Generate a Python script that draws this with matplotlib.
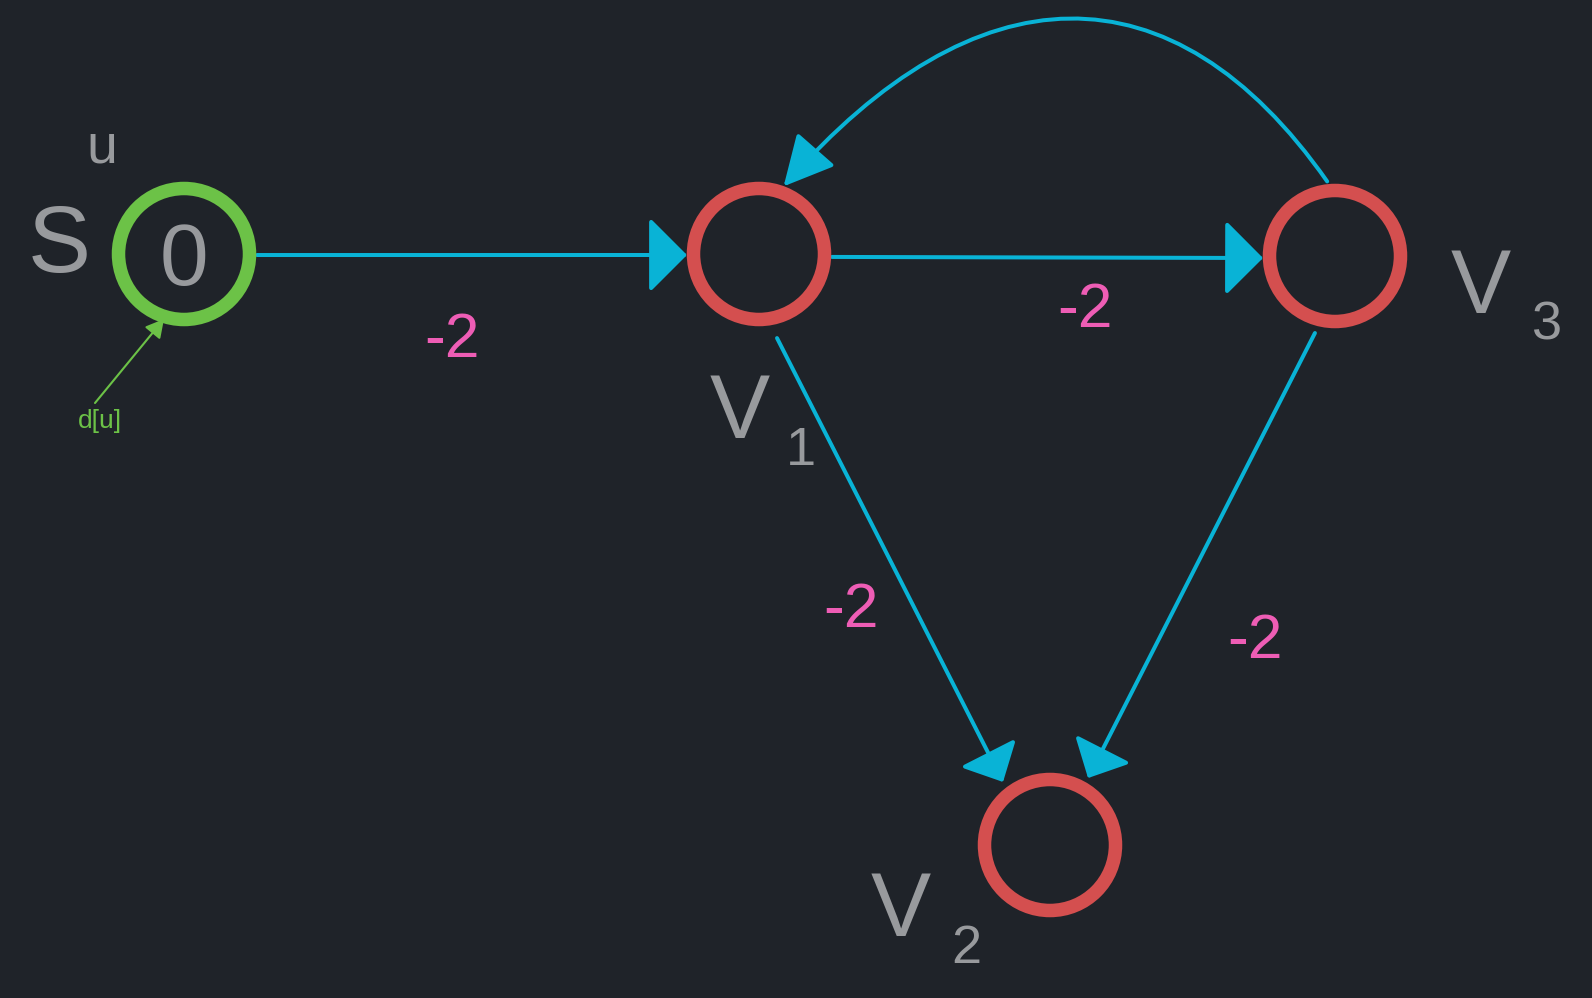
import matplotlib
matplotlib.use('Agg')
import numpy as np
import matplotlib.pyplot as plt
from matplotlib.patches import Circle, FancyArrowPatch
from matplotlib.path import Path

# Knoten, Kanten und Gewichte
nodes = ['S', 'V1', 'V2', 'V3']
node_names = ['S', 'V', 'V', 'V']
node_subs = ['', '1', '2', '3']
edges = [('S', 'V1'), ('V1', 'V3'), ('V1', 'V2'), ('V3', 'V2')]
weights = [-2, -2, -2, -2]
back_edge = ('V3', 'V1')
start_value = '0'

# Layout in Pixeln (Bild 1592 x 998)
pos = {'S': (184, 254), 'V1': (759, 254), 'V2': (1050, 845), 'V3': (1335, 256)}
# Ansatzpunkte am Kreis: (Winkel in Grad, Abstand vom Mittelpunkt) fuer Start und Ende
anchors = [((0.8, 73), (179.2, 72)),
           ((2.3, 73), (178.4, 72)),
           ((77.9, 86), (-126.7, 78.6)),
           ((104.6, 79.6), (-60.4, 77))]
head_px = [(35, 35), (35, 35), (30, 29), (30, 29)]  # Laenge, halbe Breite
weight_pos = [(452, 357), (1085, 327), (851, 627), (1255, 658)]
name_pos = {'S': (59, 272), 'V1': (740, 438), 'V2': (901, 936), 'V3': (1481, 313)}
sub_pos = {'V1': (801, 465), 'V2': (966, 963), 'V3': (1547, 340)}

BG = '#1f2329'
CYAN = '#09b3d6'
RED = '#d44f4f'
GREEN = '#6cc247'
GRAY = '#989a9d'
PINK = '#ee5db5'
PT = 0.72  # Pixel -> Punkt bei dpi 100
LW = 4 * PT

plt.rcParams['font.family'] = ['Liberation Sans', 'DejaVu Sans']

fig = plt.figure(figsize=(15.92, 9.98), dpi=100, facecolor=BG)
ax = fig.add_axes([0, 0, 1, 1])
ax.set_facecolor(BG)
ax.set_xlim(0, 1592)
ax.set_ylim(998, 0)
ax.axis('off')


def head_style(length_px, half_px):
    # Strichbreite abziehen, damit die Spitze nicht zu gross wird
    hl = length_px * PT - LW / 2
    hw = half_px * PT - LW / 2
    return f'-|>,head_length={hl:.1f},head_width={hw:.1f}'


def on_circle(node, angle, dist):
    cx, cy = pos[node]
    a = np.radians(angle)
    return cx + dist * np.cos(a), cy + dist * np.sin(a)


# Kanten
for (a, b), (sa, sb), (hl, hw) in zip(edges, anchors, head_px):
    arr = FancyArrowPatch(on_circle(a, *sa), on_circle(b, *sb), arrowstyle=head_style(hl, hw),
                          mutation_scale=1, color=CYAN, lw=LW, shrinkA=0, shrinkB=0)
    ax.add_patch(arr)

# Rueckkante V3 -> V1 als Bogen
x0, y0 = on_circle(back_edge[0], -96, 75)
x3, y3 = on_circle(back_edge[1], -70, 72)
verts = [(x0, y0), (1172, -40), (975, -32), (x3, y3)]
codes = [Path.MOVETO, Path.CURVE4, Path.CURVE4, Path.CURVE4]
arc = FancyArrowPatch(path=Path(verts, codes), arrowstyle=head_style(45, 24),
                      mutation_scale=1, color=CYAN, lw=LW)
ax.add_patch(arc)

# Knoten
for n in nodes:
    col = GREEN if n == 'S' else RED
    ax.add_patch(Circle(pos[n], 65.5, fill=False, ec=col, lw=13.5 * PT))

# Gewichte
for w, (x, y) in zip(weights, weight_pos):
    ax.text(x, y, str(w), color=PINK, fontsize=45, ha='center', va='baseline')

# Beschriftungen
for n, name, sub in zip(nodes, node_names, node_subs):
    x, y = name_pos[n]
    size = 68 if n == 'S' else 65
    ax.text(x, y, name, color=GRAY, fontsize=size, ha='center', va='baseline')
    if sub:
        sx, sy = sub_pos[n]
        ax.text(sx, sy, sub, color=GRAY, fontsize=39, ha='center', va='baseline')

ax.text(pos['S'][0], 285, start_value, color=GRAY, fontsize=63, ha='center', va='baseline')
ax.text(102, 162, 'u', color=GRAY, fontsize=40, ha='center', va='baseline')

# d[u] Hinweis
ax.text(100, 428, 'd[u]', color=GREEN, fontsize=19, ha='center', va='baseline')
ax.add_patch(FancyArrowPatch((95, 403), (164, 319), arrowstyle='-|>,head_length=11,head_width=6',
                             mutation_scale=1, color=GREEN, lw=1.5, shrinkA=0, shrinkB=0))

fig.savefig('out.png', dpi=100, facecolor=BG)
